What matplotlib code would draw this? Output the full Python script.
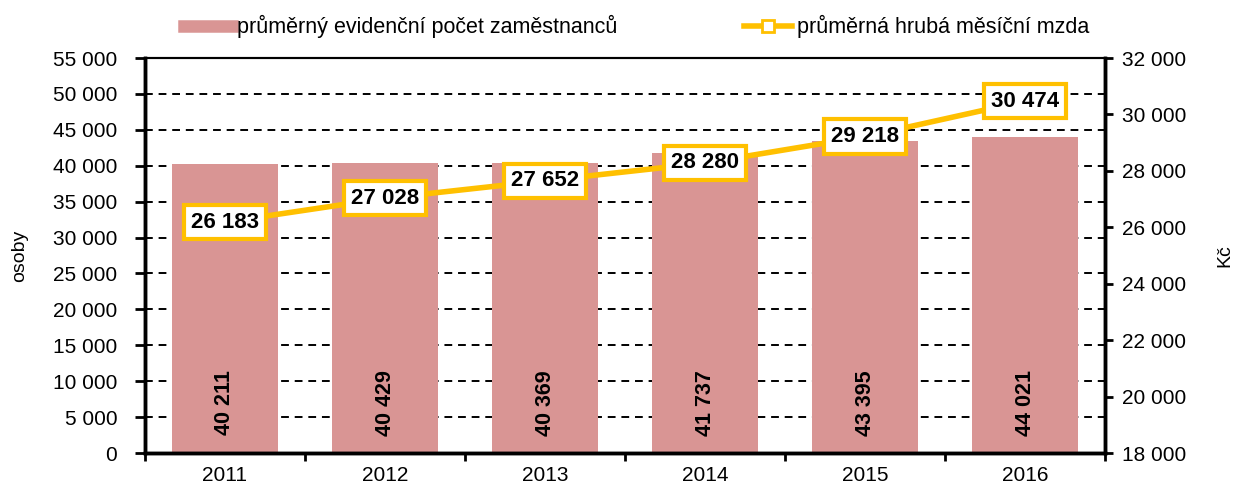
import numpy as np
import matplotlib.pyplot as plt
from matplotlib.lines import Line2D
from matplotlib.ticker import FuncFormatter, MultipleLocator

plt.rcParams['font.family'] = ['Liberation Sans', 'DejaVu Sans']

years = ['2011', '2012', '2013', '2014', '2015', '2016']
zamestnanci = [40211, 40429, 40369, 41737, 43395, 44021]
mzda = [26183, 27028, 27652, 28280, 29218, 30474]

BAR = '#D99594'
GOLD = '#FFC000'


def thousands(v, pos=None):
    return f"{v:,.0f}".replace(",", " ")


fig = plt.figure(figsize=(12.34, 4.87), dpi=100)
ax = fig.add_axes([0.1175, 0.0698, 0.778, 0.811])
ax2 = ax.twinx()

x = np.arange(len(years))
ax.bar(x, zamestnanci, width=0.66, color=BAR, zorder=2)
for xi, v in zip(x, zamestnanci):
    ax.text(xi, 7000, thousands(v), rotation=90, ha='center', va='center',
            fontsize=15.5, fontweight='bold', zorder=3)

ax.set_xlim(-0.5, len(years) - 0.5)
ax.set_ylim(0, 55000)
ax.yaxis.set_major_locator(MultipleLocator(5000))
ax.yaxis.set_major_formatter(FuncFormatter(thousands))
ax.grid(axis='y', color='black', linestyle=(0, (4, 3)), linewidth=1.4, zorder=0)
ax.set_axisbelow(True)
ax.set_xticks(x)
ax.set_xticklabels(years)
ax.set_xticks(np.arange(len(years) + 1) - 0.5, minor=True)
ax.tick_params(axis='x', which='major', length=0, pad=9, labelsize=15)
ax.tick_params(axis='x', which='minor', length=6, width=2, direction='out')
ax.tick_params(axis='y', length=7, width=2, direction='out', labelsize=15, pad=13)
ax.set_ylabel('osoby', fontsize=14, labelpad=18)

ax2.plot(x, mzda, color=GOLD, linewidth=4, zorder=3)
for xi, v in zip(x, mzda):
    ax2.text(xi, v, thousands(v), ha='center', va='center', fontsize=16,
             fontweight='bold', zorder=4,
             bbox=dict(boxstyle='square,pad=0.3', fc='white', ec=GOLD, lw=3))
ax2.set_ylim(18000, 32000)
ax2.yaxis.set_major_locator(MultipleLocator(2000))
ax2.yaxis.set_major_formatter(FuncFormatter(thousands))
ax2.tick_params(axis='y', length=6, width=2, direction='out', labelsize=15, pad=6)
ax2.set_ylabel('Kč', fontsize=14, rotation=90, labelpad=22)

for a in (ax, ax2):
    for side in ('left', 'right', 'bottom'):
        a.spines[side].set_linewidth(2.5)
    a.spines['top'].set_linewidth(1.5)

handles = [
    Line2D([], [], color=BAR, linewidth=9),
    Line2D([], [], color=GOLD, linewidth=4, marker='s', markersize=9,
           markerfacecolor='white', markeredgecolor=GOLD, markeredgewidth=2),
]
labels = ['průměrný evidenční počet zaměstnanců', 'průměrná hrubá měsíční mzda']
fig.legend(handles, labels, loc='center', bbox_to_anchor=(0.516, 0.945), ncol=2,
           frameon=False, fontsize=15.5, handlelength=2.2, handletextpad=0.25,
           columnspacing=5.9)

fig.savefig('out.png', dpi=100)
